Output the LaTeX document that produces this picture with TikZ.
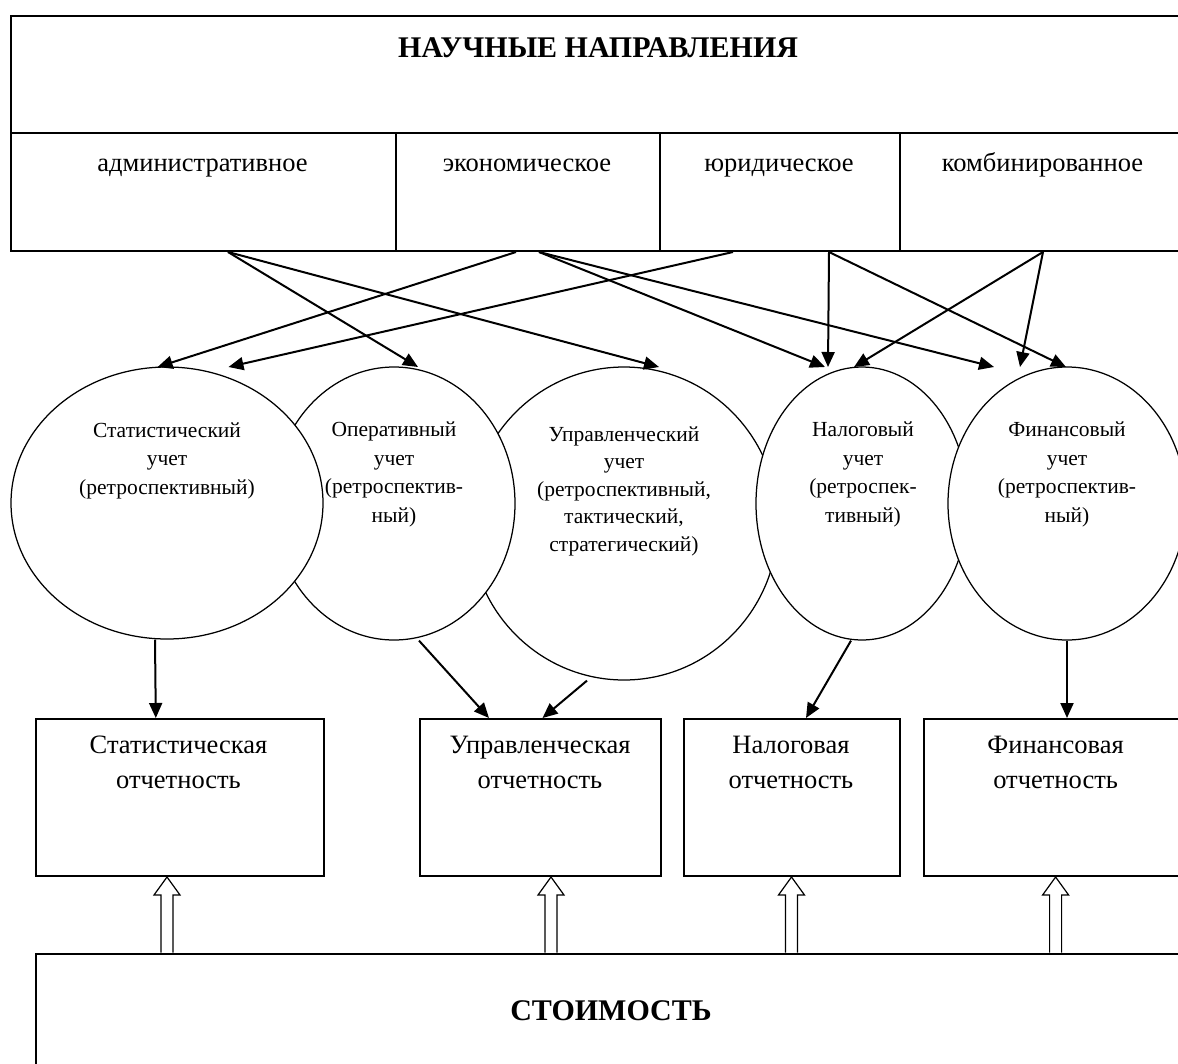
\documentclass[tikz,border=0pt]{standalone}
\usepackage{fontspec}
\setmainfont{Liberation Serif}
\usetikzlibrary{arrows.meta,calc,shapes.geometric}
\begin{document}
\begin{tikzpicture}[x=1pt,y=-1pt,
  box/.style={draw,line width=2pt,rectangle,inner sep=0pt,anchor=north west},
  ell/.style={draw,ellipse,line width=1.25pt,fill=white,inner sep=0pt},
  etxt/.style={font=\fontsize{21.5}{28.5}\selectfont,align=center,anchor=base,inner sep=0pt},
  mtxt/.style={font=\fontsize{21.5}{27.5}\selectfont,align=center,anchor=base,inner sep=0pt},
  btxt/.style={font=\fontsize{26.5}{35}\selectfont,align=center,anchor=base,inner sep=0pt},
  ttxt/.style={font=\fontsize{30}{36}\selectfont\bfseries,anchor=base,inner sep=0pt},
  arr/.style={line width=2pt,-{Triangle[length=15pt,width=13pt]}},
  hollow/.style={line width=1.2pt, to path={let \p1=(\tikztostart),\p2=(\tikztotarget) in (\x1-6pt,\y1) -- (\x1-6pt,\y2-18pt) -- (\x1-13pt,\y2-18pt) -- (\x1,\y2) -- (\x1+13pt,\y2-18pt) -- (\x1+6pt,\y2-18pt) -- (\x1+6pt,\y1)}}
]
\useasboundingbox (0,0) rectangle (1178,1063);
\clip (0,0) rectangle (1178,1063);

% top block
\node[box,minimum width=1176pt,minimum height=117pt] (top) at (10,15) {};
\node[box,minimum width=385pt,minimum height=118pt] (adm) at (10,132) {};
\node[box,minimum width=264pt,minimum height=118pt] (eco) at (395,132) {};
\node[box,minimum width=240pt,minimum height=118pt] (jur) at (659,132) {};
\node[box,minimum width=287pt,minimum height=118pt] (comb) at (899,132) {};
\node[ttxt] (title) at (598,57) {НАУЧНЫЕ НАПРАВЛЕНИЯ};
\node[btxt] (admT) at (202.5,171) {административное};
\node[btxt] (ecoT) at (527,171) {экономическое};
\node[btxt] (jurT) at (779,171) {юридическое};
\node[btxt] (combT) at (1042.5,171) {комбинированное};

% ellipses
\node[ell,minimum width=308pt,minimum height=313pt] (mg) at (624,523.5) {};
\node[ell,minimum width=242pt,minimum height=273pt] (op) at (394,503.5) {};
\node[ell,minimum width=312pt,minimum height=272pt] (st) at (167,503) {};
\node[ell,minimum width=212pt,minimum height=273pt] (tx) at (862,503.5) {};
\node[ell,minimum width=238pt,minimum height=273pt] (fn) at (1067,503.5) {};

% (anchor base = baseline of the last line)
\node[etxt] (stT) at (167,494) {Статистический\\учет\\(ретроспективный)};
\node[etxt] (opT) at (394,522) {Оперативный\\учет\\(ретроспектив-\\ный)};
\node[mtxt] (mgT) at (624,551) {Управленческий\\учет\\(ретроспективный,\\тактический,\\стратегический)};
\node[etxt] (txT) at (863,522) {Налоговый\\учет\\(ретроспек-\\тивный)};
\node[etxt] (fnT) at (1067,522) {Финансовый\\учет\\(ретроспектив-\\ный)};

% report boxes
\node[box,minimum width=288.4pt,minimum height=157pt] (stb) at (34.6,718) {};
\node[box,minimum width=241pt,minimum height=157pt] (mgb) at (418.5,718) {};
\node[box,minimum width=216pt,minimum height=157pt] (txb) at (683,718) {};
\node[box,minimum width=266pt,minimum height=157pt] (fnb) at (922.6,718) {};
\node[btxt] (stbT) at (178.5,788.5) {Статистическая\\отчетность};
\node[btxt] (mgbT) at (540,788.5) {Управленческая\\отчетность};
\node[btxt] (txbT) at (791,788.5) {Налоговая\\отчетность};
\node[btxt] (fnbT) at (1055.6,788.5) {Финансовая\\отчетность};

% value box
\node[box,minimum width=1170pt,minimum height=150pt] (sto) at (34.6,952.7) {};
\node[ttxt] (stoT) at (611,1020) {СТОИМОСТЬ};

% arrow targets on ellipses
\coordinate (stA) at (157.6,367);
\coordinate (stB) at (228.5,367);
\coordinate (opA) at (418,367);
\coordinate (mgA) at (659,367);
\coordinate (txA) at (825,367);
\coordinate (txB) at (828,367);
\coordinate (txC) at (854,367);
\coordinate (fnA) at (994,367);
\coordinate (fnB) at (1066,367);
\coordinate (fnC) at (1020,367);

% arrows from directions
\draw[arr] ([xshift=24.5pt]adm.south) -- (opA);
\draw[arr] ([xshift=24.5pt]adm.south) -- (mgA);
\draw[arr] ([xshift=-12pt]eco.south) -- (stA);
\draw[arr] ([xshift=11pt]eco.south) -- (txA);
\draw[arr] ([xshift=11pt]eco.south) -- (fnA);
\draw[arr] ([xshift=-47pt]jur.south) -- (stB);
\draw[arr] ([xshift=49pt]jur.south) -- (txB);
\draw[arr] ([xshift=49pt]jur.south) -- (fnB);
\draw[arr] ([xshift=-0.5pt]comb.south) -- (txC);
\draw[arr] ([xshift=-0.5pt]comb.south) -- (fnC);

% arrows to reports
\draw[arr] ([xshift=-12pt]st.south) -- ([xshift=-24pt]stb.north);
\draw[arr] ([xshift=25pt]op.south) -- ([xshift=-51pt]mgb.north);
\draw[arr] ([xshift=-37pt]mg.south) -- ([xshift=2.5pt]mgb.north);
\draw[arr] ([xshift=-11pt]tx.south) -- ([xshift=14pt]txb.north);
\draw[arr] (fn.south) -- (fn.south |- fnb.north);

% hollow arrows from value
\draw[hollow] ([xshift=132.4pt]sto.north west) to (stb.south);
\draw[hollow] ([xshift=516.4pt]sto.north west) to (mgb.south);
\draw[hollow] ([xshift=756.9pt]sto.north west) to (txb.south);
\draw[hollow] ([xshift=1021pt]sto.north west) to (fnb.south);
\end{tikzpicture}
\end{document}
